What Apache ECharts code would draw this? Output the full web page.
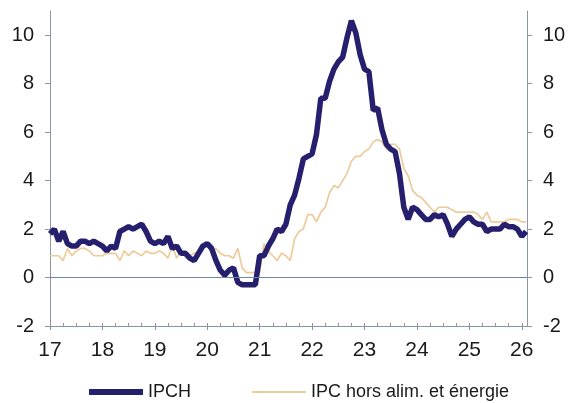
<!DOCTYPE html>
<html>
<head>
<meta charset="utf-8">
<script src="https://cdn.jsdelivr.net/npm/echarts@6/dist/echarts.min.js"></script>
<style>
  html, body { margin: 0; padding: 0; background: #fff; }
  .chart { width: 569px; height: 403px; }
</style>
</head>
<body>
<div class="chart"></div>
<script>
  // glissement annuel en %, mensuel de janv. 2017 à févr. 2026
  var ipch = [
    1.8, 2.0, 1.5, 1.9, 1.4, 1.3, 1.3, 1.5, 1.5, 1.4, 1.5, 1.4,
    1.3, 1.1, 1.3, 1.2, 1.9, 2.0, 2.1, 2.0, 2.1, 2.2, 1.9, 1.5,
    1.4, 1.5, 1.4, 1.7, 1.2, 1.3, 1.0, 1.0, 0.8, 0.7, 1.0, 1.3,
    1.4, 1.2, 0.7, 0.3, 0.1, 0.3, 0.4, -0.2, -0.3, -0.3, -0.3, -0.3,
    0.9, 0.9, 1.3, 1.6, 2.0, 1.9, 2.2, 3.0, 3.4, 4.1, 4.9, 5.0,
    5.1, 5.9, 7.4, 7.4, 8.1, 8.6, 8.9, 9.1, 9.9, 10.6, 10.1, 9.2,
    8.6, 8.5, 6.9, 7.0, 6.1, 5.5, 5.3, 5.2, 4.3, 2.9, 2.4, 2.9,
    2.8, 2.6, 2.4, 2.4, 2.6, 2.5, 2.6, 2.2, 1.7, 2.0, 2.2, 2.4,
    2.5, 2.3, 2.2, 2.2, 1.9, 2.0, 2.0, 2.0, 2.2, 2.1, 2.1, 2.0,
    1.7, 1.9
  ];
  var ipcCore = [
    0.9, 0.9, 0.9, 0.7, 1.2, 0.9, 1.1, 1.2, 1.2, 1.1, 0.9, 0.9,
    0.9, 1.0, 1.0, 1.0, 0.7, 1.1, 0.9, 1.1, 1.0, 0.9, 1.1, 1.0,
    1.0, 1.1, 1.0, 0.8, 1.3, 0.8, 1.1, 0.9, 0.9, 1.0, 1.1, 1.3,
    1.3, 1.1, 1.2, 1.0, 0.9, 0.9, 0.8, 1.2, 0.4, 0.2, 0.2, 0.2,
    0.2, 1.4, 1.1, 0.9, 0.7, 1.0, 0.9, 0.7, 1.6, 1.9, 2.0, 2.6,
    2.6, 2.3, 2.7, 2.9, 3.5, 3.8, 3.7, 4.0, 4.3, 4.8, 5.0, 5.0,
    5.2, 5.3, 5.6, 5.7, 5.6, 5.3, 5.5, 5.5, 5.3, 4.5, 4.2, 3.6,
    3.4, 3.3, 3.1, 2.9, 2.7, 2.9, 2.9, 2.9, 2.8, 2.7, 2.7, 2.7,
    2.7, 2.7, 2.6, 2.4, 2.7, 2.3, 2.3, 2.3, 2.3, 2.4, 2.4, 2.4,
    2.3, 2.3
  ];
  var years = [17, 18, 19, 20, 21, 22, 23, 24, 25, 26];
  var yTicks = [-2, 0, 2, 4, 6, 8, 10];

  var firstYear = 17;
  function toPoints(arr) {
    return arr.map(function (v, i) { return [firstYear + i / 12, v]; });
  }
  var quarters = [];
  for (var q = 0; q <= (years.length - 1) * 4; q++) quarters.push(firstYear + q / 4);

  var axisColor = '#8a96a8';
  var font = 'Liberation Sans, Arial, sans-serif';

  var chart = echarts.init(document.querySelector('.chart'));

  var yAxisBase = {
    type: 'value',
    min: -2,
    max: 11,
    interval: 2,
    splitLine: { show: false },
    axisLine: { show: true, lineStyle: { color: axisColor, width: 1 } },
    axisTick: { show: true, length: 5, customValues: yTicks, lineStyle: { color: axisColor } },
    axisLabel: { customValues: yTicks, color: '#1a1a1a', fontSize: 20, fontFamily: font, margin: 16 }
  };

  var option = {
    animation: false,
    backgroundColor: '#fff',
    grid: { left: 50, right: 42, top: 11, bottom: 77 },
    legend: {
      left: 81,
      top: 378,
      itemWidth: 54,
      itemHeight: 14,
      itemGap: 60,
      itemStyle: { opacity: 0 },
      textStyle: { color: '#1a1a1a', fontSize: 18, fontFamily: font },
      data: [
        { name: 'IPCH', lineStyle: { width: 6 } },
        { name: 'IPC hors alim. et énergie', lineStyle: { width: 2 } }
      ]
    },
    xAxis: [{
      type: 'value',
      min: 17,
      max: 26.1,
      interval: 1,
      splitLine: { show: false },
      axisLine: { onZero: false, lineStyle: { color: axisColor, width: 1 } },
      axisTick: { inside: true, length: 3, customValues: quarters, lineStyle: { color: axisColor } },
      axisLabel: { customValues: years, color: '#1a1a1a', fontSize: 21, fontFamily: font, margin: 14 }
    }, {
      type: 'value',
      min: 17,
      max: 26.1,
      position: 'bottom',
      splitLine: { show: false },
      axisLine: { show: false, onZero: false },
      axisTick: { inside: false, length: 4, customValues: years, lineStyle: { color: axisColor } },
      axisLabel: { show: false }
    }],
    yAxis: [
      Object.assign({}, yAxisBase, { position: 'left' }),
      Object.assign({}, yAxisBase, { position: 'right' })
    ],
    series: [{
      name: 'IPC hors alim. et énergie',
      type: 'line',
      symbol: 'none',
      z: 2,
      lineStyle: { color: '#eecb9b', width: 1.7 },
      itemStyle: { color: '#eecb9b' },
      data: toPoints(ipcCore),
      markLine: {
        silent: true,
        symbol: ['none', 'none'],
        label: { show: false },
        lineStyle: { color: '#6f86a3', width: 1, type: 'solid' },
        data: [{ yAxis: 0 }]
      }
    }, {
      name: 'IPCH',
      type: 'line',
      symbol: 'none',
      z: 3,
      lineStyle: { color: '#261f6d', width: 5.5 },
      itemStyle: { color: '#261f6d' },
      data: toPoints(ipch)
    }]
  };

  chart.setOption(option);
</script>
</body>
</html>
